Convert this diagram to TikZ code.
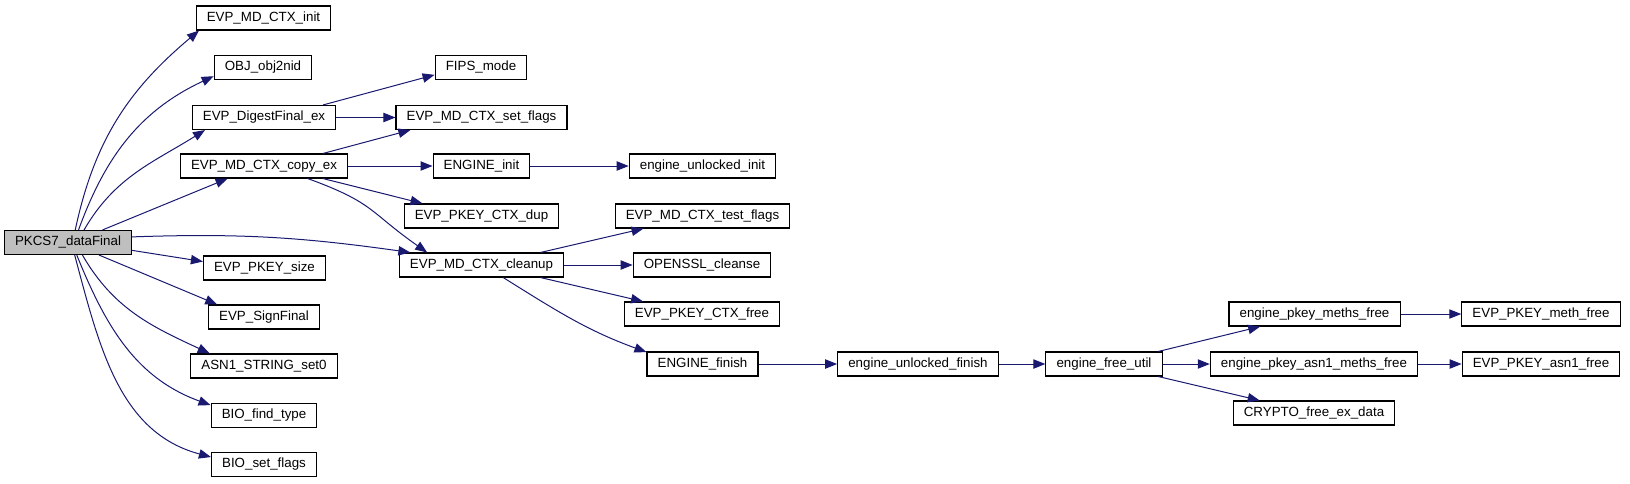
\documentclass[tikz,border=0pt]{standalone}
\usepackage{fontspec}
\setmainfont{Liberation Sans}
\usepackage{tikz}
\usetikzlibrary{arrows.meta}
\usepackage{xcolor}
\definecolor{callblue}{RGB}{25,25,112}
\definecolor{rootgray}{RGB}{191,191,191}
\tikzset{
  fn/.style={draw=black,line width=0.8pt,fill=white,inner xsep=8pt,inner ysep=0pt,
    minimum height=18pt,text height=7.5pt,text depth=2.5pt,font=\fontsize{10}{12}\selectfont},
  root/.style={fn,fill=rootgray},
  arr/.style={-{Triangle[length=9pt,width=7pt]},draw=callblue,line width=0.75pt},
}
\begin{document}
\begin{tikzpicture}[x=0.75pt,y=0.75pt]
  \useasboundingbox (0,0) rectangle (1630,-483);
  \node[root] (pk) at (68,-242.5) {PKCS7\_dataFinal};
  \node[fn] (init) at (263.5,-18) {EVP\_MD\_CTX\_init};
  \node[fn] (obj) at (263,-67.5) {OBJ\_obj2nid};
  \node[fn] (dig) at (264,-117.5) {EVP\_DigestFinal\_ex};
  \node[fn] (copy) at (264,-166) {EVP\_MD\_CTX\_copy\_ex};
  \node[fn] (size) at (264.5,-268) {EVP\_PKEY\_size};
  \node[fn] (sign) at (264,-317) {EVP\_SignFinal};
  \node[fn] (asn) at (264,-366) {ASN1\_STRING\_set0};
  \node[fn] (find) at (264,-415.5) {BIO\_find\_type};
  \node[fn] (bflags) at (264,-464.5) {BIO\_set\_flags};
  \node[fn] (fips) at (481,-67.5) {FIPS\_mode};
  \node[fn] (setfl) at (481.5,-117.5) {EVP\_MD\_CTX\_set\_flags};
  \node[fn] (einit) at (481.5,-166) {ENGINE\_init};
  \node[fn] (dup) at (481.5,-216) {EVP\_PKEY\_CTX\_dup};
  \node[fn] (clean) at (481.5,-265) {EVP\_MD\_CTX\_cleanup};
  \node[fn] (uinit) at (702.5,-166) {engine\_unlocked\_init};
  \node[fn] (testfl) at (702.5,-216) {EVP\_MD\_CTX\_test\_flags};
  \node[fn] (cleanse) at (702,-265) {OPENSSL\_cleanse};
  \node[fn] (ctxfree) at (702,-314) {EVP\_PKEY\_CTX\_free};
  \node[fn] (finish) at (702.5,-364) {ENGINE\_finish};
  \node[fn] (ufinish) at (918,-364) {engine\_unlocked\_finish};
  \node[fn] (futil) at (1104,-364) {engine\_free\_util};
  \node[fn] (pmeths) at (1314.5,-314) {engine\_pkey\_meths\_free};
  \node[fn] (ameths) at (1314,-364) {engine\_pkey\_asn1\_meths\_free};
  \node[fn] (crypto) at (1314,-413) {CRYPTO\_free\_ex\_data};
  \node[fn] (mfree) at (1541,-314) {EVP\_PKEY\_meth\_free};
  \node[fn] (afree) at (1541,-364) {EVP\_PKEY\_asn1\_free};
  \draw[arr] (pk.60) to[out=78,in=220] (init.191);
  \draw[arr] (pk.50) to[out=70,in=205] (obj.190);
  \draw[arr] (pk.38) to[out=60,in=212] (dig.192);
  \draw[arr] (pk.20) -- (copy.199);
  \draw[arr] (pk.5) to[out=2,in=172] (clean.170);
  \draw[arr] (pk.-7) -- (size.174);
  \draw[arr] (pk.-22) -- (sign.165);
  \draw[arr] (pk.-41) to[out=-60,in=155] (asn.167);
  \draw[arr] (pk.-55) to[out=-68,in=160] (find.169);
  \draw[arr] (pk.-62) to[out=-75,in=165] (bflags.172);
  \draw[arr] (dig.12) -- (fips.189); \draw[arr] (dig) -- (setfl);
  \draw[arr] (copy.12) -- (setfl.190); \draw[arr] (copy) -- (einit);
  \draw[arr] (copy.-12) -- (dup.168);
  \draw[arr] (copy.-16) to[out=-20,in=145,looseness=1.3] (clean.167);
  \draw[arr] (einit) -- (uinit);
  \draw[arr] (clean.12) -- (testfl.192); \draw[arr] (clean) -- (cleanse);
  \draw[arr] (clean.-12) -- (ctxfree.168);
  \draw[arr] (clean.-30) to[out=-32,in=160] (finish.168);
  \draw[arr] (finish) -- (ufinish); \draw[arr] (ufinish) -- (futil);
  \draw[arr] (futil.13) -- (pmeths.193); \draw[arr] (futil) -- (ameths);
  \draw[arr] (futil.-13) -- (crypto.167);
  \draw[arr] (pmeths) -- (mfree); \draw[arr] (ameths) -- (afree);
\end{tikzpicture}
\end{document}
